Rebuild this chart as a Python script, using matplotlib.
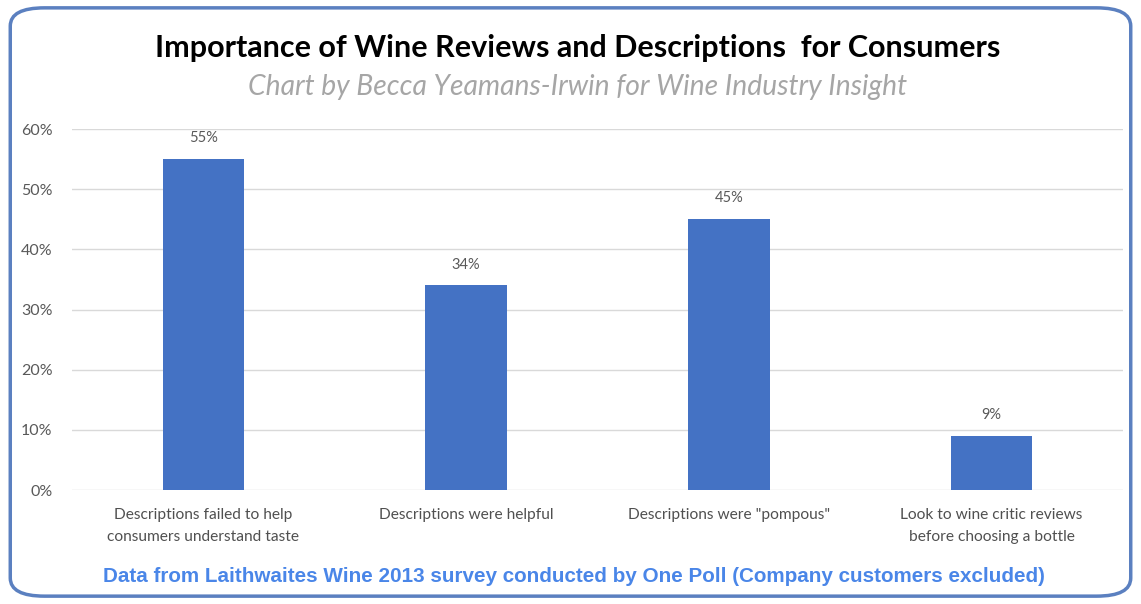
import matplotlib.pyplot as plt
import numpy as np
from matplotlib.patches import FancyBboxPatch

# chart data
categories = ["Descriptions failed to help\nconsumers understand taste",
              "Descriptions were helpful",
              "Descriptions were \"pompous\"",
              "Look to wine critic reviews\nbefore choosing a bottle"]
values = [55, 34, 45, 9]
yticks = [0, 10, 20, 30, 40, 50, 60]

plt.rcParams['font.family'] = ['Lato', 'DejaVu Sans']

fig = plt.figure(figsize=(11.41, 6.04), dpi=100)
ax = fig.add_axes([0.0631, 0.1887, 0.921, 0.5977])

x = np.arange(len(categories))
bars = ax.bar(x, values, width=0.31, color="#4472C4", zorder=3)
ax.bar_label(bars, labels=[f"{v}%" for v in values], padding=10,
             fontsize=10.5, color="#595959")

ax.set_xlim(-0.5, len(categories) - 0.5)
ax.set_ylim(0, 60)
ax.set_yticks(yticks)
ax.set_yticklabels([f"{t}%" for t in yticks], fontsize=11.5, color="#595959")
ax.set_xticks(x)
ax.set_xticklabels(categories, fontsize=11.2, color="#505050", linespacing=1.75)
ax.tick_params(length=0, pad=13)
ax.tick_params(axis='y', pad=14)
ax.grid(axis='y', color="#d9d9d9", linewidth=1, zorder=0)
for s in ax.spines.values():
    s.set_visible(False)

fig.text(0.506, 0.921, "Importance of Wine Reviews and Descriptions  for Consumers",
         ha='center', va='center', fontsize=22, fontweight='bold', color="black")
fig.text(0.506, 0.856, "Chart by Becca Yeamans-Irwin for Wine Industry Insight",
         ha='center', va='center', fontsize=20.3, style='italic', color="#a6a6a6")
fig.text(0.503, 0.046, "Data from Laithwaites Wine 2013 survey conducted by One Poll (Company customers excluded)",
         ha='center', va='center', fontsize=14.9, fontweight='bold', color="#4a86e8",
         family=['Liberation Sans', 'DejaVu Sans'])

border = FancyBboxPatch((0.009, 0.013), 0.982, 0.974, transform=fig.transFigure,
                        boxstyle="round,pad=0,rounding_size=0.03",
                        fill=False, edgecolor="#5b80c0", linewidth=2.5)
fig.patches.append(border)

plt.savefig("out.png", dpi=100)
